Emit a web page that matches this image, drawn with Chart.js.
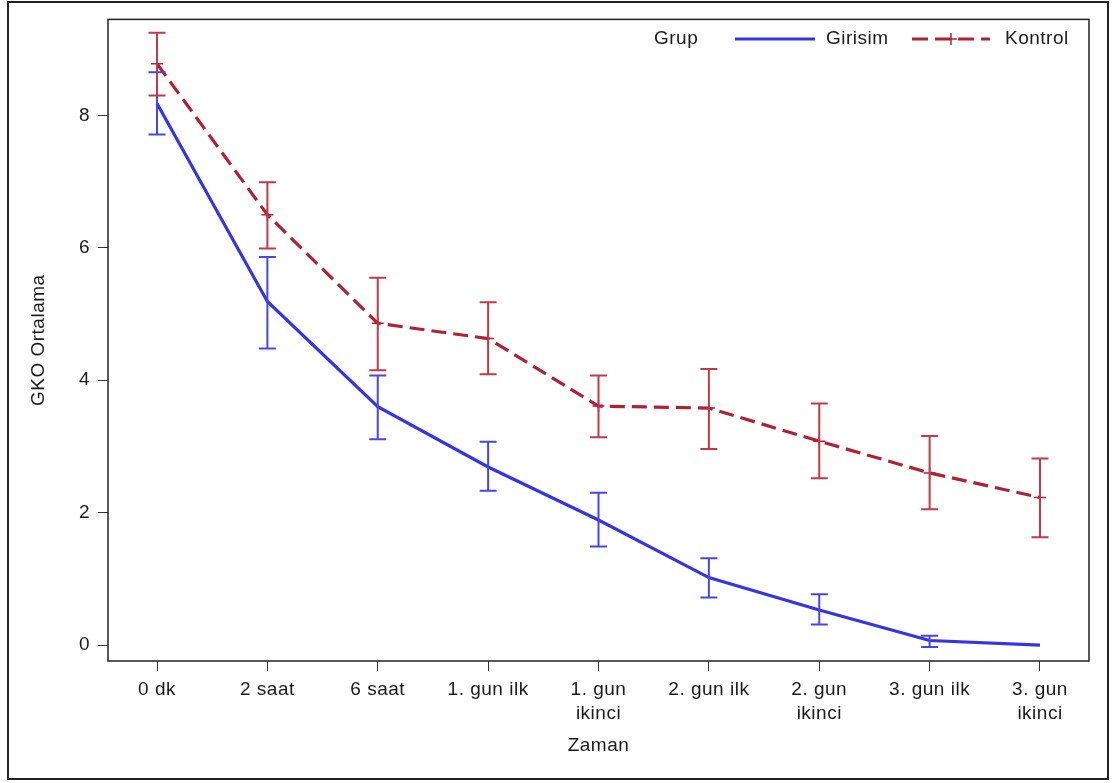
<!DOCTYPE html>
<html>
<head>
<meta charset="utf-8">
<script src="https://cdn.jsdelivr.net/npm/chart.js@4.4.1/dist/chart.umd.min.js"></script>
<style>
  body { margin: 0; background: #fff; }
  #wrap { width: 1113px; height: 783px; }
</style>
</head>
<body>
<div id="wrap"><canvas id="chart"></canvas></div>
<script>
const timeLabels = ["0 dk", "2 saat", "6 saat", "1. gun ilk", "1. gun\nikinci", "2. gun ilk", "2. gun\nikinci", "3. gun ilk", "3. gun\nikinci"];
const girisimMean = [8.18, 5.19, 3.60, 2.69, 1.89, 1.02, 0.53, 0.07, 0.00];
const girisimLow  = [7.71, 4.48, 3.11, 2.33, 1.49, 0.72, 0.31, -0.03, null];
const girisimHigh = [8.65, 5.86, 4.07, 3.07, 2.30, 1.31, 0.77, 0.14, null];
const kontrolMean = [8.78, 6.50, 4.86, 4.63, 3.61, 3.58, 3.08, 2.60, 2.23];
const kontrolLow  = [8.30, 5.99, 4.15, 4.09, 3.14, 2.96, 2.52, 2.05, 1.63];
const kontrolHigh = [9.25, 6.99, 5.55, 5.18, 4.07, 4.17, 3.65, 3.16, 2.82];
const yTicks = [0, 2, 4, 6, 8];

const blue = "rgb(52,52,232)";
const blueErr = "rgb(70,70,238)";
const red = "rgb(178,32,52)";
const redErr = "rgb(196,56,72)";
const textColor = "#1a1a1a";
const fontFamily = "'Liberation Sans', Arial, sans-serif";
const fontSize = 19;

const toPoints = arr => arr.map((v, i) => ({ x: i, y: v }));

// frame, plot box, error bars and the inline legend
const decorPlugin = {
  id: "decor",
  beforeUpdate(chart) { chart.ctx.letterSpacing = "0.5px"; },
  beforeDraw(chart) {
    const ctx = chart.ctx;
    ctx.letterSpacing = "0.5px";
    ctx.save();
    ctx.fillStyle = "#fff";
    ctx.fillRect(0, 0, chart.width, chart.height);
    ctx.strokeStyle = "#222";
    ctx.lineWidth = 2;
    ctx.strokeRect(8, 2, 1100, 777);
    ctx.restore();
  },
  afterDatasetsDraw(chart) {
    const ctx = chart.ctx;
    const xs = chart.scales.x, ys = chart.scales.y;
    const drawBars = (low, high, color) => {
      ctx.save();
      ctx.strokeStyle = color;
      ctx.lineWidth = 2;
      low.forEach((lo, i) => {
        if (lo === null) return;
        const px = xs.getPixelForValue(i);
        const y1 = ys.getPixelForValue(lo), y2 = ys.getPixelForValue(high[i]);
        ctx.beginPath();
        ctx.moveTo(px, y1); ctx.lineTo(px, y2);
        ctx.moveTo(px - 8.5, y1); ctx.lineTo(px + 8.5, y1);
        ctx.moveTo(px - 8.5, y2); ctx.lineTo(px + 8.5, y2);
        ctx.stroke();
      });
      ctx.restore();
    };
    drawBars(girisimLow, girisimHigh, blueErr);
    drawBars(kontrolLow, kontrolHigh, redErr);
  },
  afterDraw(chart) {
    const ctx = chart.ctx;
    const a = chart.chartArea;
    ctx.save();
    ctx.strokeStyle = "#222";
    ctx.lineWidth = 1.5;
    ctx.strokeRect(a.left, a.top, a.right - a.left, a.bottom - a.top);

    // legend
    const ly = 39;
    ctx.font = fontSize + "px " + fontFamily;
    ctx.fillStyle = textColor;
    ctx.textBaseline = "middle";
    ctx.textAlign = "left";
    ctx.fillText("Grup", 654, ly);
    ctx.fillText("Girisim", 826, ly);
    ctx.fillText("Kontrol", 1005, ly);

    ctx.lineWidth = 3.2;
    ctx.strokeStyle = blue;
    ctx.beginPath(); ctx.moveTo(735, ly); ctx.lineTo(815, ly); ctx.stroke();

    ctx.strokeStyle = red;
    ctx.setLineDash([16, 7]);
    ctx.beginPath(); ctx.moveTo(912, ly); ctx.lineTo(990, ly); ctx.stroke();
    ctx.setLineDash([]);
    ctx.lineWidth = 1.5;
    ctx.beginPath();
    ctx.moveTo(951 - 6, ly); ctx.lineTo(951 + 6, ly);
    ctx.moveTo(951, ly - 6); ctx.lineTo(951, ly + 6);
    ctx.stroke();
    ctx.restore();
  }
};

new Chart(document.getElementById("chart"), {
  type: "line",
  data: {
    datasets: [
      {
        label: "Girisim",
        data: toPoints(girisimMean),
        borderColor: blue,
        borderWidth: 3.2,
        pointRadius: 0,
        tension: 0
      },
      {
        label: "Kontrol",
        data: toPoints(kontrolMean),
        borderColor: red,
        borderWidth: 3.2,
        borderDash: [15, 7],
        pointStyle: "cross",
        pointRadius: 6,
        pointBorderWidth: 1.5,
        pointBorderColor: red,
        tension: 0
      }
    ]
  },
  options: {
    responsive: true,
    maintainAspectRatio: false,
    animation: false,
    layout: { padding: { left: 0, top: 19, right: 24, bottom: 0 } },
    plugins: { legend: { display: false }, tooltip: { enabled: false } },
    scales: {
      x: {
        type: "linear",
        min: -0.444,
        max: 8.444,
        afterBuildTicks: s => { s.ticks = timeLabels.map((_, i) => ({ value: i })); },
        afterFit: s => { s.height = 122; },
        ticks: {
          autoSkip: false,
          maxRotation: 0,
          padding: 7,
          color: textColor,
          font: { family: fontFamily, size: fontSize, lineHeight: 1.27 },
          callback: v => timeLabels[v].split("\n")
        },
        grid: { drawOnChartArea: false, drawTicks: true, tickLength: 10, color: "#333" },
        border: { display: false },
        title: {
          display: true,
          text: "Zaman",
          color: textColor,
          font: { family: fontFamily, size: fontSize },
          padding: { top: 0, bottom: 26 }
        }
      },
      y: {
        min: -0.24,
        max: 9.45,
        afterBuildTicks: s => { s.ticks = yTicks.map(v => ({ value: v })); },
        afterFit: s => { s.width = 108; },
        ticks: {
          padding: 8,
          color: textColor,
          font: { family: fontFamily, size: fontSize }
        },
        grid: { drawOnChartArea: false, drawTicks: true, tickLength: 10, color: "#333" },
        border: { display: false },
        title: {
          display: true,
          text: "GKO Ortalama",
          color: textColor,
          font: { family: fontFamily, size: fontSize },
          padding: { top: 27, bottom: 0 }
        }
      }
    }
  },
  plugins: [decorPlugin]
});
</script>
</body>
</html>
